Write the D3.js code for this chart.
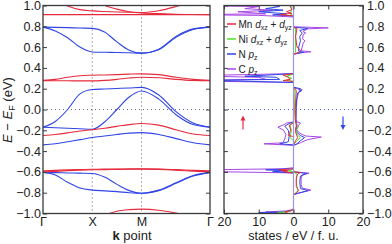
<!DOCTYPE html>
<html>
<head>
<meta charset="utf-8">
<script src="https://cdn.jsdelivr.net/npm/d3@7"></script>
<style>
  body { margin: 0; background: #fff; }
  text { font-family: "Liberation Sans", Arial, sans-serif; fill: #222; }
</style>
</head>
<body>
<div id="chart"></div>
<script>
// k path: Gamma - X - M - Gamma (band values read at these k points)
var kPts = [0, 0.25, 0.5, 0.75, 1, 1.25, 1.5, 1.75, 2, 2.35, 2.7, 3.05, 3.39];
var kTicks = [0, 1, 2, 3.39];
var kLabels = ["Γ", "X", "M", "Γ"];
var eTicks = [-1, -0.8, -0.6, -0.4, -0.2, 0, 0.2, 0.4, 0.6, 0.8, 1];
var dosTicks = [-20, -10, 0, 10, 20];

// spin-up bands (red)
var upR1 = [0.912, 0.912, 0.912, 0.912, 0.912, 0.912, 0.912, 0.912, 0.912, 0.912, 0.912, 0.912, 0.912];
var upR2 = [1.10, 1.05, 0.995, 0.96, 0.948, 0.942, 0.938, 0.935, 0.933, 0.95, 0.99, 1.04, 1.10];
var upR3 = [1.25, 1.20, 1.14, 1.08, 1.04, 1.0, 0.965, 0.94, 0.928, 0.922, 0.916, 0.913, 0.912];
var upR4 = [0.28, 0.29, 0.31, 0.325, 0.33, 0.332, 0.335, 0.34, 0.343, 0.335, 0.31, 0.29, 0.28];
var upR5 = [0.278, 0.277, 0.276, 0.275, 0.275, 0.28, 0.29, 0.303, 0.31, 0.305, 0.29, 0.28, 0.277];
var upR6 = [-0.25, -0.24, -0.225, -0.207, -0.195, -0.18, -0.162, -0.145, -0.135, -0.15, -0.195, -0.235, -0.25];
var upR7 = [-0.59, -0.585, -0.58, -0.577, -0.575, -0.573, -0.572, -0.571, -0.57, -0.572, -0.578, -0.585, -0.59];
var upR8 = [-0.602, -0.595, -0.588, -0.583, -0.58, -0.578, -0.576, -0.574, -0.573, -0.576, -0.583, -0.593, -0.6];
var upR9 = [-1.2, -1.18, -1.15, -1.11, -1.07, -1.015, -0.978, -0.963, -0.958, -0.968, -0.995, -1.04, -1.1];

// spin-down bands (blue)
var dnB1 = [0.792, 0.79, 0.787, 0.783, 0.78, 0.745, 0.65, 0.57, 0.542, 0.58, 0.703, 0.775, 0.792];
var dnB2 = [0.792, 0.755, 0.69, 0.60, 0.553, 0.55, 0.548, 0.545, 0.542, 0.575, 0.695, 0.77, 0.792];
var dnB3 = [-0.17, -0.115, 0.0, 0.15, 0.192, 0.197, 0.202, 0.207, 0.213, 0.14, -0.02, -0.13, -0.17];
var dnB4 = [-0.17, -0.175, -0.18, -0.185, -0.19, -0.12, 0.0, 0.12, 0.178, 0.10, -0.05, -0.145, -0.17];
var dnB5 = [-0.34, -0.33, -0.31, -0.29, -0.27, -0.255, -0.24, -0.227, -0.222, -0.24, -0.28, -0.32, -0.34];
var dnB6 = [-0.605, -0.607, -0.61, -0.612, -0.615, -0.65, -0.72, -0.78, -0.805, -0.775, -0.705, -0.635, -0.605];
var dnB7 = [-0.605, -0.63, -0.70, -0.755, -0.775, -0.782, -0.79, -0.80, -0.805, -0.78, -0.71, -0.64, -0.607];

// projected DOS, pairs [E, states/eV/f.u.]
var mnUp = [[-1.0,1.5],[-0.985,2.5],[-0.97,0.3],[-0.95,0],[-0.61,0],[-0.598,3],[-0.59,1.5],[-0.58,4],[-0.57,0],
  [-0.26,0],[-0.25,1.5],[-0.2,0.8],[-0.15,1.2],[-0.13,0],[0.27,0],[0.278,3],[0.29,1],[0.31,1.5],[0.33,3],[0.345,0],
  [0.9,0],[0.912,4],[0.925,0.5],[0.94,2],[0.96,0.5],[1.0,1]];
var niUp = [[-1.0,2],[-0.99,4.5],[-0.98,1],[-0.96,0],[-0.6,0],[-0.59,1.5],[-0.58,0.5],[-0.57,0],[-0.3,0],[-0.27,1],
  [-0.2,0.6],[-0.15,1],[-0.12,0],[0.27,0],[0.28,2],[0.3,0.5],[0.32,2],[0.34,0],[0.9,0],[0.92,1],[0.96,0.5],[1.0,0.5]];
var nUp = [[-1.0,2],[-0.99,10],[-0.985,3],[-0.97,0.5],[-0.95,0],[-0.61,0],[-0.598,6],[-0.59,2],[-0.58,8],[-0.57,0],
  [-0.34,0],[-0.33,4],[-0.31,1.5],[-0.25,1.2],[-0.2,1.5],[-0.16,2.5],[-0.13,1],[-0.12,0],[0.26,0],[0.27,12],[0.28,24],
  [0.29,4],[0.31,5],[0.32,14],[0.33,8],[0.345,0],[0.9,0],[0.91,6],[0.92,2],[0.94,10],[0.955,3],[0.97,8],[0.99,4],[1.0,6]];
var cUp = [[-1.0,3],[-0.99,5],[-0.985,8],[-0.975,2],[-0.96,0],[-0.61,0],[-0.6,18],[-0.59,30],[-0.58,25],[-0.57,3],[-0.56,0],
  [-0.345,0],[-0.33,8.5],[-0.32,3],[-0.28,2.5],[-0.24,2.2],[-0.2,2.8],[-0.17,4.5],[-0.15,3],[-0.13,2],[-0.12,0],
  [0.26,0],[0.27,20],[0.28,30],[0.29,8],[0.31,10],[0.32,25],[0.33,22],[0.345,0],[0.89,0],[0.905,10],[0.912,30],
  [0.92,8],[0.94,16],[0.955,6],[0.97,14],[0.99,10],[1.0,30]];

var mnDn = [[-1.0,0],[-0.82,0],[-0.8,0.8],[-0.78,1.5],[-0.74,0.8],[-0.66,0.8],[-0.62,1.2],[-0.605,2],[-0.6,0],[-0.34,0],
  [-0.3,0.6],[-0.27,1.2],[-0.22,0.6],[-0.15,0.8],[-0.1,0.5],[0.0,0.5],[0.18,0.8],[0.2,0.5],[0.21,0],[0.53,0],[0.55,1.5],
  [0.57,2],[0.6,1.0],[0.7,0.6],[0.78,1],[0.79,0],[1.0,0]];
var niDn = [[-1.0,0],[-0.82,0],[-0.8,0.8],[-0.78,1.2],[-0.7,0.8],[-0.62,1],[-0.6,0],[-0.34,0],[-0.3,1],[-0.27,2],[-0.24,1],
  [-0.2,0.8],[-0.16,1.5],[-0.13,0.6],[0.0,0.3],[0.2,0.4],[0.21,0],[0.53,0],[0.55,0.6],[0.78,0.6],[0.79,0],[1.0,0]];
var nDn = [[-1.0,0],[-0.82,0],[-0.805,1.2],[-0.78,4.2],[-0.76,2],[-0.7,1.8],[-0.64,2],[-0.615,3.8],[-0.6,0],[-0.345,0],
  [-0.33,1],[-0.3,2],[-0.27,3.2],[-0.25,2],[-0.22,1],[-0.19,0.6],[-0.15,1],[-0.1,0.6],[0.0,0.7],[0.1,0.9],[0.16,1.2],
  [0.18,2.3],[0.19,1.5],[0.2,2],[0.215,0],[0.535,0],[0.55,3],[0.56,1.5],[0.6,1.5],[0.66,2],[0.7,1.8],[0.735,2.5],
  [0.76,1.8],[0.78,4.2],[0.79,0],[1.0,0]];
var cDn = [[-1.0,0],[-0.82,0],[-0.805,1.5],[-0.775,5],[-0.755,2.5],[-0.72,2.2],[-0.66,2.2],[-0.63,2.5],[-0.612,4.5],[-0.6,0],
  [-0.345,0],[-0.32,2],[-0.29,4],[-0.265,8],[-0.255,3.5],[-0.24,2.5],[-0.22,1.5],[-0.19,0.8],[-0.15,1.5],[-0.13,2],
  [-0.12,1],[-0.1,0.8],[0.0,0.8],[0.1,1],[0.17,1.5],[0.19,2.5],[0.21,0],[0.53,0],[0.545,2],[0.555,5],[0.565,2.2],
  [0.6,2.5],[0.64,2.8],[0.66,3.3],[0.68,2.6],[0.72,2.8],[0.735,3.5],[0.75,2.7],[0.775,4],[0.785,10],[0.795,0.5],[0.8,0],[1.0,0]];

var red = "#e62a3c", blue = "#2f45e6", green = "#4fe02a", purple = "#a846e8", frame = "#3a3a3a";

var width = 392, height = 244;
var svg = d3.select("#chart").append("svg")
    .attr("width", width).attr("height", height);

var y = d3.scaleLinear().domain([-1, 1]).range([213.5, 5.5]);
var xk = d3.scaleLinear().domain([0, 3.39]).range([43, 210]);
var xd = d3.scaleLinear().domain([-20, 20]).range([224, 363]);

var defs = svg.append("defs");
defs.append("clipPath").attr("id", "clipBand").append("rect")
    .attr("x", 43).attr("y", 5.5).attr("width", 167).attr("height", 208);
defs.append("clipPath").attr("id", "clipDos").append("rect")
    .attr("x", 224).attr("y", 5.5).attr("width", 139).attr("height", 208);

// ---- band structure panel
var bandG = svg.append("g").attr("clip-path", "url(#clipBand)");

// guide lines
[1, 2].forEach(function(k) {
  bandG.append("line")
    .attr("x1", xk(k)).attr("x2", xk(k)).attr("y1", y(1)).attr("y2", y(-1))
    .attr("stroke", "#555").attr("stroke-width", 1).attr("stroke-dasharray", "1,3");
});
bandG.append("line")
    .attr("x1", xk(0)).attr("x2", xk(3.39)).attr("y1", y(0)).attr("y2", y(0))
    .attr("stroke", "#667").attr("stroke-width", 1).attr("stroke-dasharray", "1,3");

var bandLine = d3.line()
    .x(function(d, i) { return xk(kPts[i]); })
    .y(function(d) { return y(d); })
    .curve(d3.curveMonotoneX);

var bands = [
  {v: dnB1, c: blue}, {v: dnB2, c: blue}, {v: dnB3, c: blue}, {v: dnB4, c: blue},
  {v: dnB5, c: blue}, {v: dnB6, c: blue}, {v: dnB7, c: blue},
  {v: upR1, c: red}, {v: upR2, c: red}, {v: upR3, c: red}, {v: upR4, c: red}, {v: upR5, c: red},
  {v: upR6, c: red}, {v: upR7, c: red}, {v: upR8, c: red}, {v: upR9, c: red}
];
bandG.selectAll(".band").data(bands).enter().append("path")
    .attr("class", "band")
    .attr("d", function(d) { return bandLine(d.v); })
    .attr("fill", "none")
    .attr("stroke", function(d) { return d.c; })
    .attr("stroke-width", 1.1);

// axes of band panel
var fmt = d3.format(".1f");
svg.append("g").attr("transform", "translate(43,0)")
    .call(d3.axisLeft(y).tickValues(eTicks).tickSize(-4).tickPadding(2).tickFormat(fmt))
    .call(styleAxis);
svg.append("g").attr("transform", "translate(210,0)")
    .call(d3.axisRight(y).tickValues(eTicks).tickSize(-4).tickFormat(""))
    .call(styleAxis);
svg.append("g").attr("transform", "translate(0,213.5)")
    .call(d3.axisBottom(xk).tickValues(kTicks).tickSize(0).tickPadding(3.5)
      .tickFormat(function(d, i) { return kLabels[i]; }))
    .call(styleAxis);
svg.append("rect").attr("x", 43).attr("y", 5.5).attr("width", 167).attr("height", 208)
    .attr("fill", "none").attr("stroke", frame).attr("stroke-width", 1.3);

// ---- DOS panel
var dosG = svg.append("g").attr("clip-path", "url(#clipDos)");
dosG.append("line")
    .attr("x1", xd(-20)).attr("x2", xd(20)).attr("y1", y(0)).attr("y2", y(0))
    .attr("stroke", "#4a5ad0").attr("stroke-width", 1).attr("stroke-dasharray", "1,3");

var upLine = d3.line().x(function(d) { return xd(-d[1]); }).y(function(d) { return y(d[0]); });
var dnLine = d3.line().x(function(d) { return xd(d[1]); }).y(function(d) { return y(d[0]); });

var dosCurves = [
  {v: cUp, f: upLine, c: purple}, {v: cDn, f: dnLine, c: purple},
  {v: nUp, f: upLine, c: blue}, {v: nDn, f: dnLine, c: blue},
  {v: niUp, f: upLine, c: green}, {v: niDn, f: dnLine, c: green},
  {v: mnUp, f: upLine, c: red}, {v: mnDn, f: dnLine, c: red}
];
dosG.selectAll(".dos").data(dosCurves).enter().append("path")
    .attr("class", "dos")
    .attr("d", function(d) { return d.f(d.v); })
    .attr("fill", "none")
    .attr("stroke", function(d) { return d.c; })
    .attr("stroke-width", 1);

dosG.append("line")
    .attr("x1", xd(0)).attr("x2", xd(0)).attr("y1", y(1)).attr("y2", y(-1))
    .attr("stroke", "#9c94e6").attr("stroke-width", 1.2);

svg.append("g").attr("transform", "translate(224,0)")
    .call(d3.axisLeft(y).tickValues(eTicks).tickSize(-4).tickFormat(""))
    .call(styleAxis);
svg.append("g").attr("transform", "translate(363,0)")
    .call(d3.axisRight(y).tickValues(eTicks).tickSize(-4).tickPadding(4).tickFormat(fmt))
    .call(styleAxis);
svg.append("g").attr("transform", "translate(0,213.5)")
    .call(d3.axisBottom(xd).tickValues(dosTicks).tickSize(-4).tickPadding(3.5)
      .tickFormat(function(d) { return Math.abs(d); }))
    .call(styleAxis);
svg.append("g").attr("transform", "translate(0,5.5)")
    .call(d3.axisTop(xd).tickValues(dosTicks).tickSize(-4).tickFormat(""))
    .call(styleAxis);
svg.append("rect").attr("x", 224).attr("y", 5.5).attr("width", 139).attr("height", 208)
    .attr("fill", "none").attr("stroke", frame).attr("stroke-width", 1.3);

// spin arrows
function arrow(x, yTail, yTip, c) {
  var dir = yTip < yTail ? 1 : -1;
  svg.append("line").attr("x1", x).attr("x2", x).attr("y1", yTail).attr("y2", yTip + dir * 4)
      .attr("stroke", c).attr("stroke-width", 1.2);
  svg.append("path")
      .attr("d", "M" + (x - 2.5) + "," + (yTip + dir * 5) + "L" + x + "," + yTip + "L" + (x + 2.5) + "," + (yTip + dir * 5) + "Z")
      .attr("fill", c);
}
arrow(243, 129.5, 115.5, red);
arrow(343, 116.5, 130, blue);

// legend
var legendItems = [
  {el: "Mn", orb: "d", sub1: "xz", sub2: "yz", c: red},
  {el: "Ni", orb: "d", sub1: "xz", sub2: "yz", c: green},
  {el: "N", orb: "p", sub1: "z", c: blue},
  {el: "C", orb: "p", sub1: "z", c: purple}
];
var leg = svg.append("g");
legendItems.forEach(function(d, i) {
  var ly = 24 + i * 15;
  leg.append("line").attr("x1", 227).attr("x2", 236).attr("y1", ly).attr("y2", ly)
      .attr("stroke", d.c).attr("stroke-width", 1.5);
  var t = leg.append("text").attr("x", 238.5).attr("y", ly + 3.6).style("font-size", "10px");
  t.append("tspan").text(d.el + " ");
  t.append("tspan").style("font-style", "italic").text(d.orb);
  t.append("tspan").attr("dy", 2.3).style("font-size", "7px").text(d.sub1);
  if (d.sub2) {
    t.append("tspan").attr("dy", -2.3).text(" + ");
    t.append("tspan").style("font-style", "italic").text(d.orb);
    t.append("tspan").attr("dy", 2.3).style("font-size", "7px").text(d.sub2);
  }
});

// axis titles
var yt = svg.append("text")
    .attr("transform", "translate(12,110) rotate(-90)")
    .attr("text-anchor", "middle")
    .style("font-size", "13px");
yt.append("tspan").style("font-style", "italic").text("E");
yt.append("tspan").text(" − ");
yt.append("tspan").style("font-style", "italic").text("E");
yt.append("tspan").attr("dy", 3).style("font-size", "9px").text("F");
yt.append("tspan").attr("dy", -3).text(" (eV)");

var kt = svg.append("text").attr("x", 132).attr("y", 240)
    .attr("text-anchor", "middle").style("font-size", "13px");
kt.append("tspan").style("font-weight", "bold").text("k");
kt.append("tspan").text(" point");

svg.append("text").attr("x", 293.5).attr("y", 239.5)
    .attr("text-anchor", "middle").style("font-size", "12.5px")
    .text("states / eV / f. u.");

function styleAxis(g) {
  g.select(".domain").remove();
  g.selectAll(".tick line").attr("stroke", frame).attr("stroke-width", 1);
  g.selectAll(".tick text").style("font-size", "12.5px").attr("fill", "#222");
}
</script>
</body>
</html>
